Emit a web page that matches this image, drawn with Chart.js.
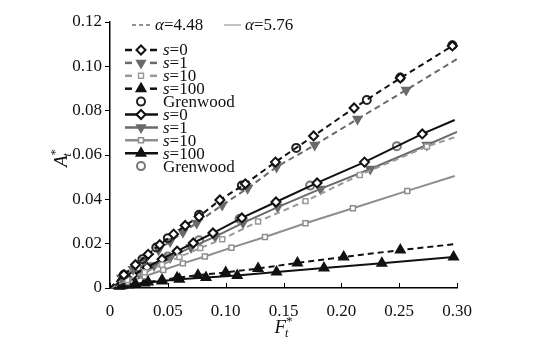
<!DOCTYPE html>
<html>
<head>
<meta charset="utf-8">
<script src="https://cdn.jsdelivr.net/npm/chart.js@4.4.1/dist/chart.umd.min.js"></script>
<style>
  body { margin: 0; background: #fff; }
  #wrap { width: 558px; height: 360px; }
</style>
</head>
<body>
<div id="wrap"><canvas id="chart" width="558" height="360"></canvas></div>
<script>
// tick values
const xTickValues = [0, 0.05, 0.10, 0.15, 0.20, 0.25, 0.30];
const yTickValues = [0, 0.02, 0.04, 0.06, 0.08, 0.10, 0.12];

// alpha = 4.48 (dashed)
const d0X = [0, 0.012, 0.022, 0.033, 0.043, 0.055, 0.065, 0.077, 0.095, 0.117, 0.143, 0.176, 0.211, 0.251, 0.296];
const d0Y = [0, 0.0060, 0.0105, 0.0152, 0.0195, 0.0243, 0.0282, 0.0322, 0.0397, 0.0470, 0.0568, 0.0686, 0.0812, 0.0947, 0.1092];
const d1X = [0, 0.010, 0.020, 0.030, 0.042, 0.052, 0.063, 0.075, 0.097, 0.119, 0.144, 0.177, 0.214, 0.256, 0.300];
const d1Y = [0, 0.0045, 0.0085, 0.0125, 0.0172, 0.0210, 0.0252, 0.0293, 0.0374, 0.0450, 0.0546, 0.0645, 0.0762, 0.0893, 0.1033];
const d10X = [0, 0.015, 0.030, 0.045, 0.060, 0.078, 0.097, 0.128, 0.169, 0.216, 0.274, 0.298];
const d10Y = [0, 0.0036, 0.0071, 0.0105, 0.0140, 0.0180, 0.0220, 0.0300, 0.0392, 0.0510, 0.0638, 0.0680];
const d100X = [0, 0.010, 0.022, 0.033, 0.045, 0.058, 0.076, 0.100, 0.128, 0.162, 0.202, 0.251, 0.298];
const d100Y = [0, 0.0010, 0.0019, 0.0027, 0.0036, 0.0046, 0.0058, 0.0070, 0.0088, 0.0113, 0.0140, 0.0171, 0.0198];
const dGrX = [0.012, 0.028, 0.040, 0.050, 0.077, 0.114, 0.161, 0.222, 0.251, 0.296];
const dGrY = [0.0060, 0.0130, 0.0183, 0.0225, 0.0330, 0.0462, 0.0632, 0.0848, 0.0950, 0.1095];

// alpha = 5.76 (solid)
const s0X = [0, 0.010, 0.020, 0.032, 0.045, 0.058, 0.072, 0.089, 0.114, 0.1435, 0.179, 0.220, 0.270, 0.298];
const s0Y = [0, 0.0030, 0.0059, 0.0093, 0.0130, 0.0166, 0.0203, 0.0248, 0.0316, 0.0388, 0.0474, 0.0568, 0.0695, 0.0758];
const s1X = [0, 0.012, 0.025, 0.038, 0.052, 0.070, 0.091, 0.115, 0.145, 0.182, 0.225, 0.274, 0.300];
const s1Y = [0, 0.0033, 0.0068, 0.0102, 0.0138, 0.0183, 0.0232, 0.0294, 0.0365, 0.0447, 0.0537, 0.0645, 0.0704];
const s10X = [0, 0.015, 0.030, 0.046, 0.063, 0.082, 0.105, 0.134, 0.169, 0.210, 0.257, 0.298];
const s10Y = [0, 0.0027, 0.0053, 0.0081, 0.0111, 0.0142, 0.0182, 0.0230, 0.0292, 0.0360, 0.0438, 0.0505];
const s100X = [0, 0.008, 0.016, 0.030, 0.045, 0.060, 0.083, 0.110, 0.144, 0.185, 0.235, 0.297];
const s100Y = [0, 0.0008, 0.0014, 0.0023, 0.0032, 0.0040, 0.0047, 0.0056, 0.0072, 0.0090, 0.0112, 0.0140];
const sGrX = [0.015, 0.030, 0.050, 0.077, 0.112, 0.173, 0.248];
const sGrY = [0.0045, 0.0088, 0.0142, 0.0215, 0.0312, 0.0462, 0.0640];

const FONT = "'Liberation Serif', 'Times New Roman', serif";
const DASH = [6, 4];

function series(label, xs, ys, o) {
  const last = xs.length - 1;
  const r = o.r || 4;
  return {
    label: label,
    data: xs.map((x, i) => ({ x: x, y: ys[i] })),
    showLine: o.line !== false,
    borderColor: o.color,
    borderWidth: 2,
    borderDash: o.dash ? DASH : [],
    tension: 0,
    pointStyle: o.style,
    pointRotation: o.rot || 0,
    pointBackgroundColor: o.fill,
    pointBorderColor: o.color,
    pointBorderWidth: o.bw || 1.5,
    pointRadius: (c) => (o.line !== false && (c.dataIndex === 0 || (o.noEnd && c.dataIndex === last))) ? 0 : r,
    legendRadius: r,
    clip: false,
  };
}

const datasets = [
  series("s=0 a", d0X, d0Y, { color: "#111", fill: "#fff", style: "rectRot", dash: true, bw: 2, r: 4.5 }),
  series("Grenwood a", dGrX, dGrY, { color: "#222", fill: "rgba(255,255,255,0)", style: "circle", line: false, bw: 2, r: 4 }),
  series("s=1 a", d1X, d1Y, { color: "#6a6a6a", fill: "#6a6a6a", style: "triangle", rot: 180, dash: true, noEnd: true, r: 5 }),
  series("s=10 a", d10X, d10Y, { color: "#9a9a9a", fill: "#fff", style: "rect", dash: true, noEnd: true, r: 3.5 }),
  series("s=100 a", d100X, d100Y, { color: "#111", fill: "#111", style: "triangle", dash: true, noEnd: true, r: 5.5 }),
  series("s=0 b", s0X, s0Y, { color: "#111", fill: "#fff", style: "rectRot", noEnd: true, bw: 2, r: 4.5 }),
  series("Grenwood b", sGrX, sGrY, { color: "#777", fill: "rgba(255,255,255,0)", style: "circle", line: false, bw: 2, r: 4 }),
  series("s=1 b", s1X, s1Y, { color: "#6a6a6a", fill: "#6a6a6a", style: "triangle", rot: 180, noEnd: true, r: 5 }),
  series("s=10 b", s10X, s10Y, { color: "#8e8e8e", fill: "#fff", style: "rect", noEnd: true, r: 3.5 }),
  series("s=100 b", s100X, s100Y, { color: "#111", fill: "#111", style: "triangle", r: 5.5 }),
];

// draws a run of text pieces left to right, returns end x
function runText(ctx, parts, x, y) {
  parts.forEach(p => {
    ctx.font = (p.italic ? "italic " : "") + p.size + "px " + FONT;
    ctx.fillText(p.t, x, y + (p.dy || 0));
    x += ctx.measureText(p.t).width;
  });
  return x;
}

function starSub(ctx, letter, x, y) {
  ctx.textAlign = "left";
  ctx.textBaseline = "alphabetic";
  ctx.font = "italic 19px " + FONT;
  const w = ctx.measureText(letter).width;
  ctx.fillText(letter, x, y);
  ctx.font = "italic 12px " + FONT;
  ctx.fillText("t", x + w - 1, y + 4);
  ctx.font = "13px " + FONT;
  ctx.fillText("*", x + w, y - 8);
}

const decorPlugin = {
  id: "decor",
  afterDraw(chart) {
    const ctx = chart.ctx;
    const xs = chart.scales.x;
    const area = chart.chartArea;
    ctx.save();
    // inward x ticks
    ctx.strokeStyle = "#000";
    ctx.lineWidth = 1;
    xTickValues.forEach(v => {
      const px = Math.round(xs.getPixelForValue(v)) + 0.5;
      ctx.beginPath();
      ctx.moveTo(px, area.bottom);
      ctx.lineTo(px, area.bottom - 5);
      ctx.stroke();
    });

    ctx.fillStyle = "#111";
    // axis titles
    starSub(ctx, "F", (area.left + area.right) / 2 - 9, 333);
    ctx.save();
    ctx.translate(67, (area.top + area.bottom) / 2 + 12);
    ctx.rotate(-Math.PI / 2);
    starSub(ctx, "A", 0, 0);
    ctx.restore();

    // legend header
    ctx.textAlign = "left";
    ctx.textBaseline = "middle";
    ctx.lineWidth = 1.2;
    ctx.strokeStyle = "#222";
    ctx.setLineDash([4, 3]);
    ctx.beginPath(); ctx.moveTo(132, 25); ctx.lineTo(152, 25); ctx.stroke();
    ctx.setLineDash([]);
    ctx.strokeStyle = "#999";
    ctx.beginPath(); ctx.moveTo(224, 25); ctx.lineTo(241, 25); ctx.stroke();
    ctx.fillStyle = "#111";
    runText(ctx, [{ t: "α", italic: true, size: 17 }, { t: "=4.48", size: 17 }], 155, 26);
    runText(ctx, [{ t: "α", italic: true, size: 17 }, { t: "=5.76", size: 17 }], 245, 26);

    // legend rows: dataset index, dashed?, italic part, plain part
    const rows = [
      [0, true, "s", "=0"], [2, true, "s", "=1"], [3, true, "s", "=10"], [4, true, "s", "=100"],
      [1, null, "", "Grenwood"],
      [5, false, "s", "=0"], [7, false, "s", "=1"], [8, false, "s", "=10"], [9, false, "s", "=100"],
      [6, null, "", "Grenwood"],
    ];
    rows.forEach((row, i) => {
      const y = 50 + i * 12.9;
      const ds = chart.data.datasets[row[0]];
      ctx.strokeStyle = ds.borderColor;
      ctx.lineWidth = 2.5;
      if (row[1] === true) {
        ctx.beginPath(); ctx.moveTo(125, y); ctx.lineTo(132, y); ctx.stroke();
        ctx.beginPath(); ctx.moveTo(150, y); ctx.lineTo(157, y); ctx.stroke();
      } else if (row[1] === false) {
        ctx.beginPath(); ctx.moveTo(125, y); ctx.lineTo(158, y); ctx.stroke();
      }
      ctx.fillStyle = ds.pointBackgroundColor;
      ctx.strokeStyle = ds.pointBorderColor;
      ctx.lineWidth = ds.pointBorderWidth;
      Chart.helpers.drawPoint(ctx, {
        pointStyle: ds.pointStyle,
        rotation: ds.pointRotation,
        radius: ds.legendRadius,
        borderWidth: ds.pointBorderWidth,
      }, 141, y);
      ctx.fillStyle = "#111";
      ctx.textBaseline = "middle";
      runText(ctx, [{ t: row[2], italic: true, size: 17 }, { t: row[3], size: 17 }], 163, y + 1);
    });
    ctx.restore();
  },
};

new Chart(document.getElementById("chart"), {
  type: "scatter",
  data: { datasets: datasets },
  options: {
    responsive: false,
    devicePixelRatio: 1,
    animation: false,
    layout: { padding: { left: 0, right: 101, top: 22, bottom: 0 } },
    plugins: { legend: { display: false }, tooltip: { enabled: false }, title: { display: false } },
    scales: {
      x: {
        type: "linear",
        min: 0,
        max: 0.30,
        afterBuildTicks: (s) => { s.ticks = xTickValues.map(v => ({ value: v })); },
        afterFit: (s) => { s.height = 72; },
        grid: { display: false },
        border: { display: true, color: "#000", width: 1.5 },
        ticks: {
          color: "#111",
          padding: 5,
          font: { family: FONT, size: 17 },
          maxRotation: 0,
          callback: (v) => v === 0 ? "0" : v.toFixed(2),
        },
      },
      y: {
        type: "linear",
        min: 0,
        max: 0.12,
        afterBuildTicks: (s) => { s.ticks = yTickValues.map(v => ({ value: v })); },
        afterFit: (s) => { s.width = 110; },
        grid: { drawOnChartArea: false, drawTicks: true, tickLength: 5, color: "#000" },
        border: { display: true, color: "#000", width: 1.5 },
        ticks: {
          color: "#111",
          padding: 3,
          font: { family: FONT, size: 17 },
          callback: (v) => v === 0 ? "0" : v.toFixed(2),
        },
      },
    },
  },
  plugins: [decorPlugin],
});
</script>
</body>
</html>
